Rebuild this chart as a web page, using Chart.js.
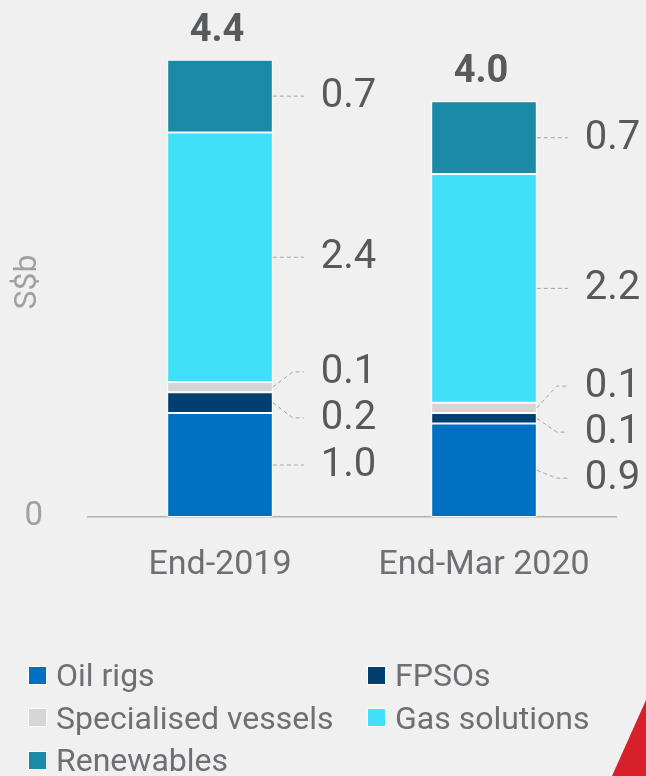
<!DOCTYPE html>
<html>
<head>
<meta charset="utf-8">
<script src="https://cdn.jsdelivr.net/npm/chart.js@4"></script>
<style>
  html, body { margin: 0; padding: 0; background: #f0f0f0; }
  #wrap { position: relative; width: 646px; height: 776px; overflow: hidden; }
  #wrap canvas { position: absolute; left: 0; top: 0; }
  #legend {
    position: absolute; left: 28px; top: 654px;
    display: grid; grid-template-columns: 339px 260px; grid-auto-rows: 42.5px;
    font-family: Roboto, sans-serif; font-size: 32px; color: #6d6f72;
  }
  #legend .item { display: flex; align-items: center; white-space: nowrap; }
  #legend .box { width: 17px; height: 17px; border: 1px solid #fff; margin-right: 9px; flex: none; }
  #corner {
    position: absolute; right: 0; bottom: 0; width: 34px; height: 76px;
    background: #d7202a; clip-path: polygon(100% 0, 100% 100%, 0 100%);
  }
</style>
</head>
<body>
<div id="wrap">
  <canvas id="chart"></canvas>
  <div id="legend"></div>
  <div id="corner"></div>
</div>
<script>
const categories = ['End-2019', 'End-Mar 2020'];
const oilRigs = [1.0, 0.9];
const fpsos = [0.2, 0.1];
const specialisedVessels = [0.1, 0.1];
const gasSolutions = [2.4, 2.2];
const renewables = [0.7, 0.7];
const yTicks = [0];

const textDark = '#58595b';

// spread labels of one bar so that they do not overlap
function spread(items, gap) {
    let groups = items.map(it => ({ list: [it], center: it.mid }));
    let merged = true;
    while (merged) {
        merged = false;
        for (let g = 0; g < groups.length - 1; g++) {
            const a = groups[g], b = groups[g + 1];
            const aEnd = a.center + (a.list.length - 1) * gap / 2;
            const bStart = b.center - (b.list.length - 1) * gap / 2;
            if (bStart - aEnd < gap) {
                const list = a.list.concat(b.list);
                const center = list.reduce((s, it) => s + it.mid, 0) / list.length;
                groups.splice(g, 2, { list, center });
                merged = true;
                break;
            }
        }
    }
    groups.forEach(gr => gr.list.forEach((it, j) => {
        it.y = gr.center + (j - (gr.list.length - 1) / 2) * gap;
    }));
}

const barLabels = {
    id: 'barLabels',
    afterDatasetsDraw(chart) {
        const ctx = chart.ctx;
        const sets = chart.data.datasets;
        chart.data.labels.forEach((cat, i) => {
            const items = [];
            let total = 0;
            let topY = Infinity, cx = 0;
            sets.forEach((ds, d) => {
                const bar = chart.getDatasetMeta(d).data[i];
                total += ds.data[i];
                topY = Math.min(topY, bar.y);
                cx = bar.x;
                items.push({
                    text: ds.data[i].toFixed(1),
                    mid: (bar.y + bar.base) / 2,
                    right: bar.x + bar.width / 2
                });
            });
            items.sort((a, b) => a.mid - b.mid);
            spread(items, 46);

            ctx.save();
            items.forEach(it => {
                ctx.strokeStyle = '#a3a3a3';
                ctx.lineWidth = 1;
                ctx.setLineDash([4, 3]);
                ctx.beginPath();
                ctx.moveTo(it.right, it.mid);
                ctx.lineTo(it.right + 20, it.y);
                ctx.lineTo(it.right + 31, it.y);
                ctx.stroke();
                ctx.setLineDash([]);
                ctx.fillStyle = textDark;
                ctx.font = '40px Roboto';
                ctx.textAlign = 'left';
                ctx.textBaseline = 'middle';
                ctx.fillText(it.text, it.right + 48, it.y + 1);
            });
            // total on top
            ctx.fillStyle = textDark;
            ctx.font = 'bold 38px Roboto';
            ctx.textAlign = 'center';
            ctx.textBaseline = 'alphabetic';
            ctx.fillText(total.toFixed(1), cx - 3, topY - 19);

            ctx.restore();
        });

        // y axis title
        ctx.save();
        ctx.translate(28, 282);
        ctx.rotate(-Math.PI / 2);
        ctx.fillStyle = '#a0a0a0';
        ctx.font = '32px Roboto';
        ctx.textAlign = 'center';
        ctx.textBaseline = 'middle';
        ctx.fillText('S$b', 0, 0);
        ctx.restore();
    }
};

const chart = new Chart(document.getElementById('chart'), {
    type: 'bar',
    data: {
        labels: categories,
        datasets: [
            { label: 'Oil rigs', data: oilRigs, backgroundColor: '#0070c2' },
            { label: 'FPSOs', data: fpsos, backgroundColor: '#003f70' },
            { label: 'Specialised vessels', data: specialisedVessels, backgroundColor: '#d4d5d7' },
            { label: 'Gas solutions', data: gasSolutions, backgroundColor: '#40e0f8' },
            { label: 'Renewables', data: renewables, backgroundColor: '#1b8aa7' }
        ]
    },
    options: {
        responsive: true,
        maintainAspectRatio: false,
        animation: false,
        layout: { padding: { left: 26, right: 30, top: 39, bottom: 189 } },
        datasets: {
            bar: {
                borderColor: '#ffffff',
                borderWidth: 1,
                borderSkipped: false,
                categoryPercentage: 1,
                barPercentage: 0.4
            }
        },
        plugins: {
            legend: { display: false },
            tooltip: { enabled: false }
        },
        scales: {
            x: {
                stacked: true,
                grid: { display: false, drawTicks: false },
                border: { display: true, color: '#b3b3b3', width: 1.5 },
                ticks: { color: '#6d6f72', font: { family: 'Roboto', size: 34 }, padding: 28 },
                afterFit: s => { s.height = 70; s.paddingLeft = 0; s.paddingRight = 0; }
            },
            y: {
                stacked: true,
                min: 0,
                max: 4.6,
                grid: { display: false, drawTicks: false },
                border: { display: false },
                afterBuildTicks: s => { s.ticks = yTicks.map(v => ({ value: v })); },
                ticks: { color: '#a0a0a0', font: { family: 'Roboto', size: 33 }, padding: 45 },
                afterFit: s => { s.width = 62; s.paddingTop = 0; s.paddingBottom = 0; }
            }
        }
    },
    plugins: [barLabels]
});

// html legend in two columns, built from the datasets
const legend = document.getElementById('legend');
chart.data.datasets.forEach(ds => {
    const item = document.createElement('div');
    item.className = 'item';
    const box = document.createElement('span');
    box.className = 'box';
    box.style.background = ds.backgroundColor;
    item.appendChild(box);
    item.appendChild(document.createTextNode(ds.label));
    legend.appendChild(item);
});
</script>
</body>
</html>
